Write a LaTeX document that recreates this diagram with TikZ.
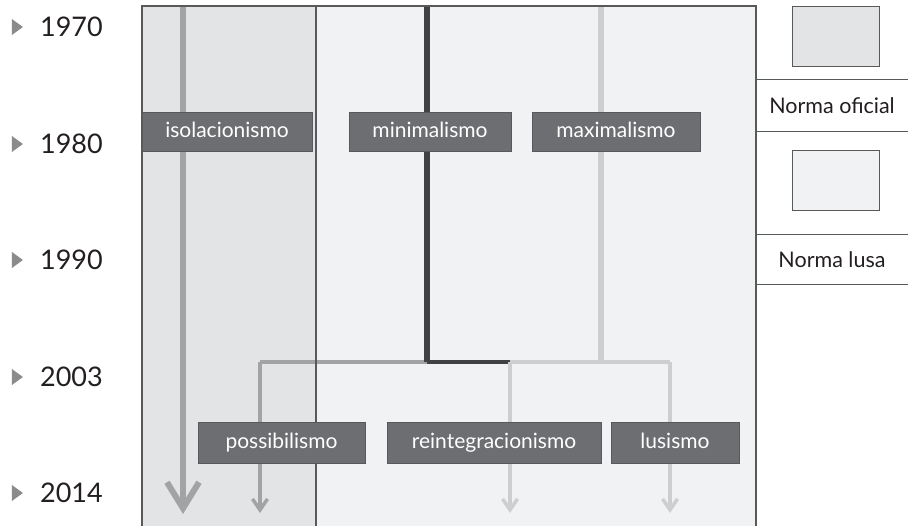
\documentclass[tikz,border=0pt]{standalone}
\usepackage{fontspec}
\setmainfont{Lato}
\usetikzlibrary{arrows.meta, backgrounds, shapes.geometric, positioning}

\definecolor{frameGray}{HTML}{58595B}
\definecolor{offGray}{HTML}{E3E4E6}
\definecolor{lusaGray}{HTML}{F1F2F3}
\definecolor{boxGray}{HTML}{6D6E71}
\definecolor{midLine}{HTML}{A2A3A5}
\definecolor{darkLine}{HTML}{414042}
\definecolor{lightLine}{HTML}{CDCED0}
\definecolor{markGray}{HTML}{8A8B8D}
\definecolor{yearText}{HTML}{231F20}

\begin{document}
\begin{tikzpicture}[x=1pt, y=-1pt, font=\fontsize{21}{24}\selectfont,
  term/.style={draw=frameGray, fill=boxGray, text=white, rectangle, minimum height=39pt, inner sep=0pt, line width=0.8pt, text height=14pt, text depth=3pt},
  marker/.style={isosceles triangle, isosceles triangle stretches, fill=markGray, minimum height=11pt, minimum width=16pt, inner sep=0pt, outer sep=0pt},
  year/.style={text=yearText, inner sep=0pt, font=\fontsize{27}{30}\selectfont},
  keybox/.style={draw=frameGray, rectangle, minimum width=87pt, minimum height=60pt, line width=1pt},
  keylabel/.style={rectangle, minimum width=152pt, minimum height=51pt, inner sep=0pt, text=yearText, font=\fontsize{21.5}{24}\selectfont},
  small arrow/.style={-{Straight Barb[length=11pt, width=15pt]}}]

\clip (0,0) rectangle (908,525);
\useasboundingbox (0,0) rectangle (908,525);

\coordinate (isoTop) at (183,7);
\coordinate (isoEnd) at (183,514);
\coordinate (minTop) at (427,7);
\coordinate (minJoin) at (427,362);
\coordinate (maxTop) at (601,7);
\coordinate (maxJoin) at (601,362);
\coordinate (posJoin) at (260,362);
\coordinate (posEnd) at (260,513);
\coordinate (reiJoin) at (510,362);
\coordinate (reiEnd) at (510,513);
\coordinate (lusJoin) at (670,362);
\coordinate (lusEnd) at (670,513);

% regions and trend lines
\fill[lusaGray] (142,6) rectangle (756,530);
\fill[offGray] (142,6) rectangle (316,530);
\draw[midLine, line width=6pt, -{Straight Barb[length=26pt, width=32pt]}] (isoTop) -- (isoEnd);
\draw[lightLine, line width=5.5pt] (maxTop) -- (maxJoin);
\draw[midLine, line width=3.5pt] (posJoin) -- (minJoin);
\draw[lightLine, line width=3.5pt] (reiJoin) -- (lusJoin);
\draw[darkLine, line width=3.5pt] (minJoin) -- (reiJoin);
\draw[darkLine, line width=5.5pt] (minTop) -- (minJoin);
\draw[midLine, line width=3.5pt, small arrow] (posJoin) -- (posEnd);
\draw[lightLine, line width=3.5pt, small arrow] (reiJoin) -- (reiEnd);
\draw[lightLine, line width=3.5pt, small arrow] (lusJoin) -- (lusEnd);
\draw[frameGray, line width=1.5pt] (142,530) -- (142,6) -- (756,6) -- (756,530);
\draw[frameGray, line width=1.5pt] (316,6) -- (316,530);

% years
\node[marker] (m1970) at (16,27) {};
\node[year, right=17pt of m1970] (y1970) {1970};
\node[marker] (m1980) at (16,144) {};
\node[year, right=17pt of m1980] (y1980) {1980};
\node[marker] (m1990) at (16,260) {};
\node[year, right=17pt of m1990] (y1990) {1990};
\node[marker] (m2003) at (16,377) {};
\node[year, right=17pt of m2003] (y2003) {2003};
\node[marker] (m2014) at (16,493) {};
\node[year, right=17pt of m2014] (y2014) {2014};

% trends
\node[term, minimum width=170pt] (iso) at (227,132) {isolacionismo};
\node[term, minimum width=162pt] (min) at (430,132) {minimalismo};
\node[term, minimum width=168pt] (max) at (616,132) {maximalismo};
\node[term, minimum width=167pt, minimum height=41pt] (pos) at (281.5,442.5) {possibilismo};
\node[term, minimum width=214pt, minimum height=41pt] (rei) at (494,442.5) {reintegracionismo};
\node[term, minimum width=128pt, minimum height=41pt] (lus) at (675,442.5) {lusismo};

% legend
\node[keybox, fill=offGray] (keyOficial) at (835.5,36) {};
\node[keylabel] (lblOficial) at (832,105.5) {Norma oficial};
\node[keybox, fill=lusaGray] (keyLusa) at (835.5,180.5) {};
\node[keylabel, minimum height=49pt] (lblLusa) at (832,259.5) {Norma lusa};
\draw[frameGray, line width=1.2pt] (lblOficial.north west) -- (lblOficial.north east);
\draw[frameGray, line width=1.2pt] (lblOficial.south west) -- (lblOficial.south east);
\draw[frameGray, line width=1.2pt] (lblLusa.north west) -- (lblLusa.north east);
\draw[frameGray, line width=1.2pt] (lblLusa.south west) -- (lblLusa.south east);

\end{tikzpicture}
\end{document}
